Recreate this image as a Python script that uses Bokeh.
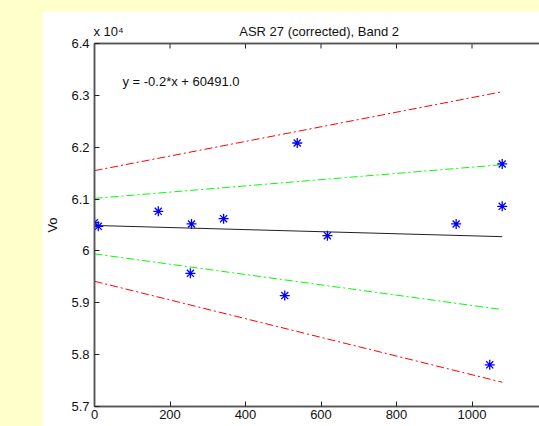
from bokeh.plotting import figure
from bokeh.models import LinearAxis, FixedTicker, Label, Range1d
from bokeh.layouts import column
from bokeh.embed import file_html
from bokeh.resources import INLINE

# Observations (x, Vo)
x_obs = [0, 10, 169, 257, 254, 342, 504, 537, 617, 958, 1047, 1080, 1080]
v_obs = [60545, 60474, 60763, 60520, 59568, 60622, 59139, 62081, 60295, 60520, 57804, 61677, 60860]

# Fit and bands (endpoints)
line_x = [0, 1080]
fit_v = [60491.0, 60491.0 - 0.2 * 1080]
green_upper = [61014, 61663]
green_lower = [59943, 58869]
red_upper = [61548, 63070]
red_lower = [59415, 57468]

title_text = "ASR 27 (corrected), Band 2"
exponent_text = "x 10\u2074"
equation_text = "y = -0.2*x + 60491.0"
y_label = "Vo"
x_ticks = [0, 200, 400, 600, 800, 1000]
y_ticks = [57000, 58000, 59000, 60000, 61000, 62000, 63000, 64000]
y_tick_labels = ["5.7", "5.8", "5.9", "6", "6.1", "6.2", "6.3", "6.4"]

FONT = "Liberation Sans"
AX = "#555555"
TXT = "#111111"

Y0, Y1 = 57000, 64000
FRAME_H = 363
EXP_X = 37     # centre of the exponent note, x data units
TITLE_X = 595  # centre of the title, x data units

p = figure(width=505, height=415, output_backend="svg", toolbar_location=None,
           x_range=Range1d(0, 1200), y_range=Range1d(Y0, Y1),
           x_axis_location=None, y_axis_location=None,
           min_border_left=50, min_border_top=32, min_border_bottom=20, min_border_right=0,
           background_fill_color="white", border_fill_color="white")
p.outline_line_color = AX
p.outline_line_width = 1.5
p.grid.visible = False
p.margin = (11, 0, 0, 42)

def style(ax):
    ax.axis_line_color = AX
    ax.axis_line_width = 1.5
    ax.major_tick_line_color = "#222222"
    ax.major_tick_in = 5
    ax.major_tick_out = 0
    ax.minor_tick_line_color = None
    ax.major_label_text_font = FONT
    ax.major_label_text_font_size = "13px"
    ax.major_label_text_color = TXT
    ax.major_label_standoff = 3

xb = LinearAxis(ticker=FixedTicker(ticks=x_ticks))
style(xb)
p.add_layout(xb, "below")

# top axis carries the exponent note and the title, MATLAB-style
xt = LinearAxis(ticker=FixedTicker(ticks=[EXP_X, TITLE_X]),
                major_label_overrides={EXP_X: exponent_text, TITLE_X: title_text})
style(xt)
xt.major_tick_in = 0
xt.major_tick_line_color = None
xt.major_label_standoff = 5
p.add_layout(xt, "above")

yl = LinearAxis(ticker=FixedTicker(ticks=y_ticks),
                major_label_overrides={t: l for t, l in zip(y_ticks, y_tick_labels)})
style(yl)
yl.major_label_standoff = 5
yl.axis_label = y_label
yl.axis_label_text_font = FONT
yl.axis_label_text_font_size = "13px"
yl.axis_label_text_font_style = "normal"
yl.axis_label_text_color = TXT
yl.axis_label_standoff = 8
p.add_layout(yl, "left")

# top-edge inward ticks (MATLAB box)
tick_len = (Y1 - Y0) * 5 / FRAME_H
p.segment(x0=x_ticks, y0=[Y1] * len(x_ticks), x1=x_ticks, y1=[Y1 - tick_len] * len(x_ticks),
          line_color="#222222", line_width=1)

dash = "8 3 2 3"
p.line(line_x, red_upper, line_color="#FF0000", line_width=1, line_dash=dash)
p.line(line_x, red_lower, line_color="#FF0000", line_width=1, line_dash=dash)
p.line(line_x, green_upper, line_color="#00FF00", line_width=1, line_dash=dash)
p.line(line_x, green_lower, line_color="#00FF00", line_width=1, line_dash=dash)
p.line(line_x, fit_v, line_color="#222222", line_width=1)
p.scatter(x_obs, v_obs, marker="asterisk", size=10, line_color="#0000FF", line_width=1.3)

p.add_layout(Label(x=74, y=63266, text=equation_text, text_align="left",
                   text_baseline="middle", text_font=FONT, text_font_size="13px",
                   text_color=TXT))

root = column(p, width=539, height=426,
              styles={"background-color": "#FFFFCC", "overflow": "hidden"})

with open("out.html", "w") as f:
    f.write(file_html(root, INLINE))
